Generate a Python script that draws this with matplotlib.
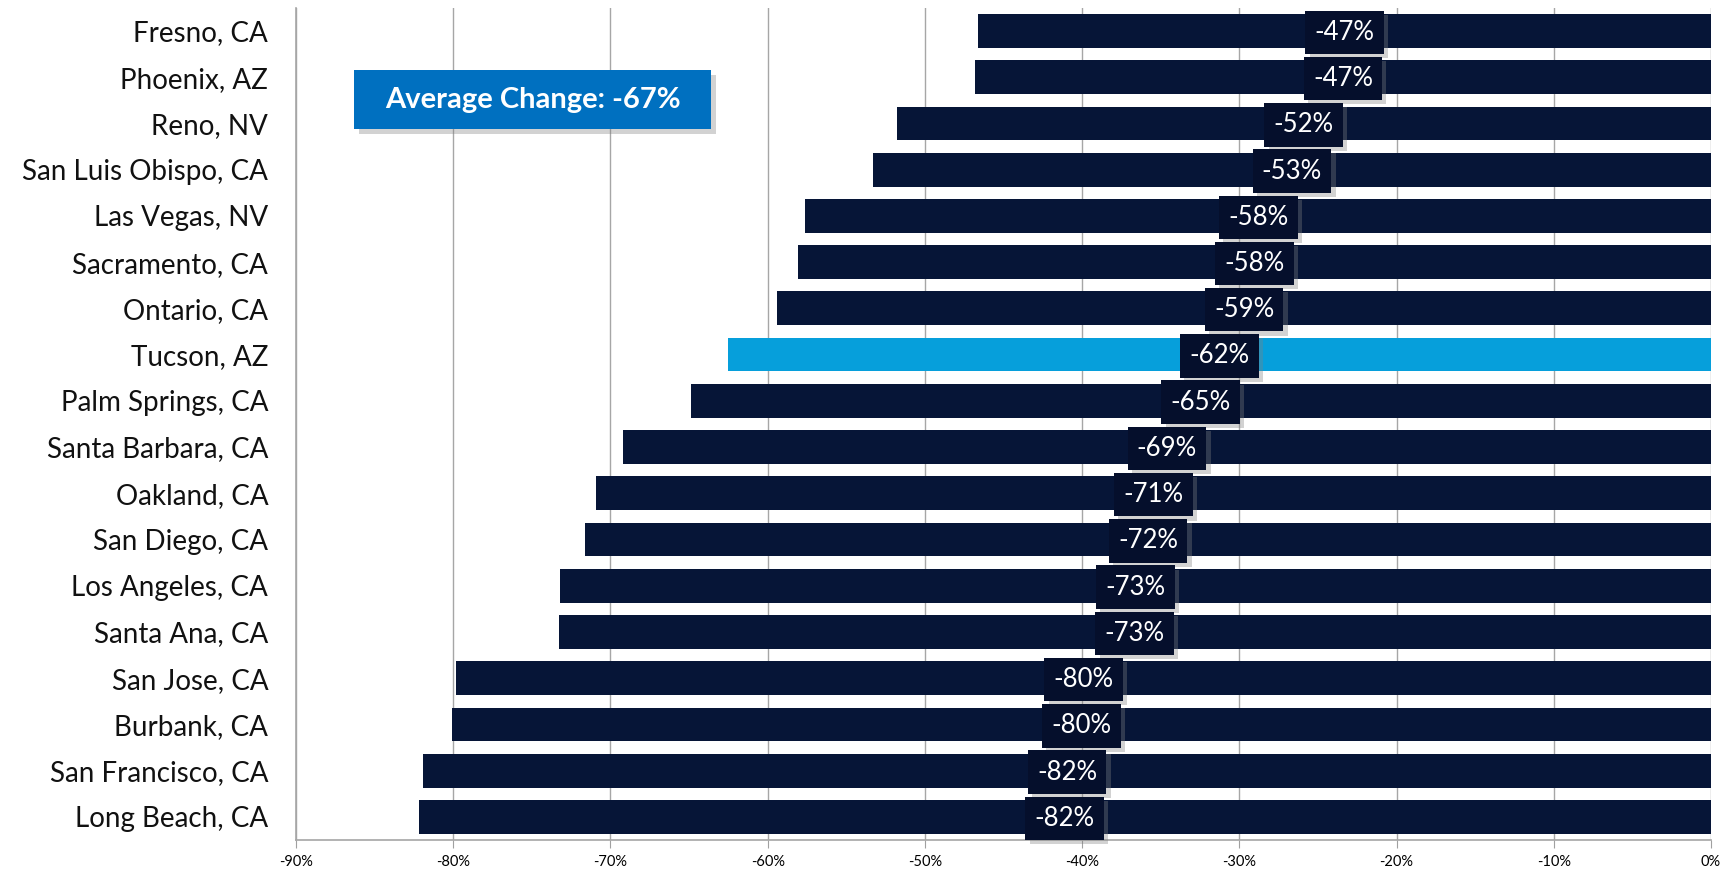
import numpy as np
import matplotlib
matplotlib.use('Agg')
import matplotlib.pyplot as plt
import matplotlib.patheffects as pe
from matplotlib.patches import Rectangle

plt.rcParams['font.family'] = ['Lato', 'DejaVu Sans']

cities = ['Fresno, CA', 'Phoenix, AZ', 'Reno, NV', 'San Luis Obispo, CA', 'Las Vegas, NV',
          'Sacramento, CA', 'Ontario, CA', 'Tucson, AZ', 'Palm Springs, CA', 'Santa Barbara, CA',
          'Oakland, CA', 'San Diego, CA', 'Los Angeles, CA', 'Santa Ana, CA', 'San Jose, CA',
          'Burbank, CA', 'San Francisco, CA', 'Long Beach, CA']
change = [-46.6, -46.8, -51.8, -53.3, -57.6, -58.1, -59.4, -62.5, -64.9, -69.2,
          -70.9, -71.6, -73.2, -73.3, -79.8, -80.1, -81.9, -82.2]
highlight = 'Tucson, AZ'
avg_text = 'Average Change: -67%'
xticks = np.arange(-90, 1, 10)

navy = '#061537'
light = '#069fdb'

fig = plt.figure(figsize=(17.27, 8.72), dpi=100)
fig.patch.set_facecolor('white')
ax = fig.add_axes([0.1714, 0.0367, 0.8193, 0.9543])

y = np.arange(len(cities))
colors = [light if c == highlight else navy for c in cities]
ax.barh(y, change, height=0.73, color=colors, zorder=2)

shadow = [pe.SimplePatchShadow(offset=(3, -3), shadow_rgbFace='#808080', alpha=0.35), pe.Normal()]
for yi, v in zip(y, change):
    t = ax.text(v / 2, yi + 0.03, f'{round(v):d}%', ha='center', va='center', fontsize=18.5,
                color='white', zorder=4,
                bbox=dict(boxstyle='square,pad=0.36', fc='#050f2c', ec='none'))
    t.get_bbox_patch().set_path_effects(shadow)

ax.set_xlim(-90, 0)
ax.set_ylim(len(cities) - 0.5, -0.5)
ax.set_yticks(y)
ax.set_yticklabels(cities, fontsize=20, color='#111111')
ax.tick_params(axis='y', length=0, pad=20)
ax.set_xticks(xticks)
ax.set_xticklabels([f'{t}%' for t in xticks], fontsize=10.5)
ax.tick_params(axis='x', length=6, color='#a0a0a0', pad=5)
ax.grid(axis='x', color='#a6a6a6', lw=1, zorder=0)
ax.set_axisbelow(True)
for s in ['top', 'right']:
    ax.spines[s].set_visible(False)
for s in ['left', 'bottom']:
    ax.spines[s].set_color('#a6a6a6')
    ax.spines[s].set_linewidth(1.2)

# Average change callout box with drop shadow
bx, by, bw, bh = 0.205, 0.852, 0.2067, 0.0677
fig.patches.append(Rectangle((bx + 0.003, by - 0.006), bw, bh, transform=fig.transFigure,
                             fc='#808080', ec='none', alpha=0.35, zorder=5))
fig.patches.append(Rectangle((bx, by), bw, bh, transform=fig.transFigure,
                             fc='#0070c0', ec='none', zorder=6))
fig.text(bx + bw / 2, by + bh / 2, avg_text, ha='center', va='center', fontsize=21,
         fontweight='bold', color='white', zorder=7)

fig.savefig('out.png', dpi=100, facecolor='white')
